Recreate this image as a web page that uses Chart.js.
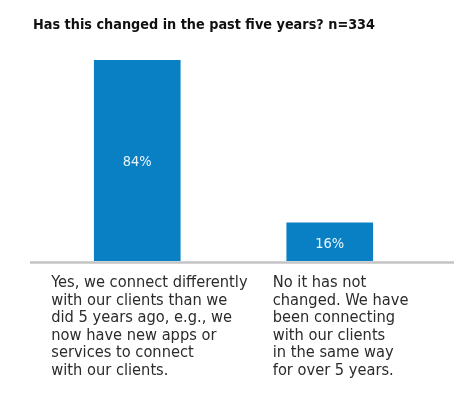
<!DOCTYPE html>
<html>
<head>
<meta charset="utf-8">
<script src="https://cdn.jsdelivr.net/npm/chart.js@4.4.0/dist/chart.umd.min.js"></script>
<style>
  html, body { margin: 0; padding: 0; background: #fff; }
  #wrap { width: 471px; height: 415px; position: relative; }
</style>
</head>
<body>
<div id="wrap"><canvas id="chart"></canvas></div>
<script>
// Dados
const titleText = 'Has this changed in the past five years? n=334';
const categories = [
    ['Yes, we connect differently', 'with our clients than we', 'did 5 years ago, e.g., we', 'now have new apps or', 'services to connect', 'with our clients.'],
    ['No it has not', 'changed. We have', 'been connecting', 'with our clients', 'in the same way', 'for over 5 years.']
];
const values = [84, 16];

const barColor = '#0a80c4';
const labelFont = '"DejaVu Sans Condensed", "Liberation Sans", sans-serif';

// Título, linha de base cinza, valores e textos das categorias
const decorations = {
    id: 'decorations',
    afterDatasetsDraw(chart) {
        const ctx = chart.ctx;
        const area = chart.chartArea;
        const meta = chart.getDatasetMeta(0);

        ctx.save();
        // título
        ctx.fillStyle = '#111';
        ctx.font = 'bold 14.3px ' + labelFont;
        ctx.textAlign = 'left';
        ctx.textBaseline = 'middle';
        ctx.fillText(titleText, 33, 25);

        // linha de base
        ctx.strokeStyle = '#c4c4c4';
        ctx.lineWidth = 2.5;
        ctx.beginPath();
        ctx.moveTo(area.left - 11, area.bottom + 1.5);
        ctx.lineTo(area.right + 28, area.bottom + 1.5);
        ctx.stroke();

        // valores dentro das barras
        ctx.fillStyle = '#eaf4fb';
        ctx.font = '14.5px ' + labelFont;
        ctx.textAlign = 'center';
        meta.data.forEach((bar, i) => {
            ctx.fillText(values[i] + '%', bar.x, (bar.y + bar.base) / 2 + 2);
        });

        // rótulos das categorias, alinhados à esquerda
        const shifts = [-86, -57];
        ctx.fillStyle = '#2b2b2b';
        ctx.font = '16.3px ' + labelFont;
        ctx.textAlign = 'left';
        categories.forEach((lines, i) => {
            const left = meta.data[i].x + shifts[i];
            lines.forEach((line, j) => {
                ctx.fillText(line, left, area.bottom + 22 + j * 17.5);
            });
        });
        ctx.restore();
    }
};

new Chart(document.getElementById('chart'), {
    type: 'bar',
    data: {
        labels: categories.map(c => c.join(' ')),
        datasets: [{
            data: values,
            backgroundColor: barColor,
            borderWidth: 0,
            barThickness: 86
        }]
    },
    options: {
        responsive: true,
        maintainAspectRatio: false,
        animation: false,
        layout: { padding: { left: 41, right: 45, top: 60, bottom: 154 } },
        plugins: {
            legend: { display: false },
            tooltip: { enabled: false },
            title: { display: false }
        },
        scales: {
            x: { display: false },
            y: { display: false, min: 0, max: 84 }
        }
    },
    plugins: [decorations]
});
</script>
</body>
</html>
